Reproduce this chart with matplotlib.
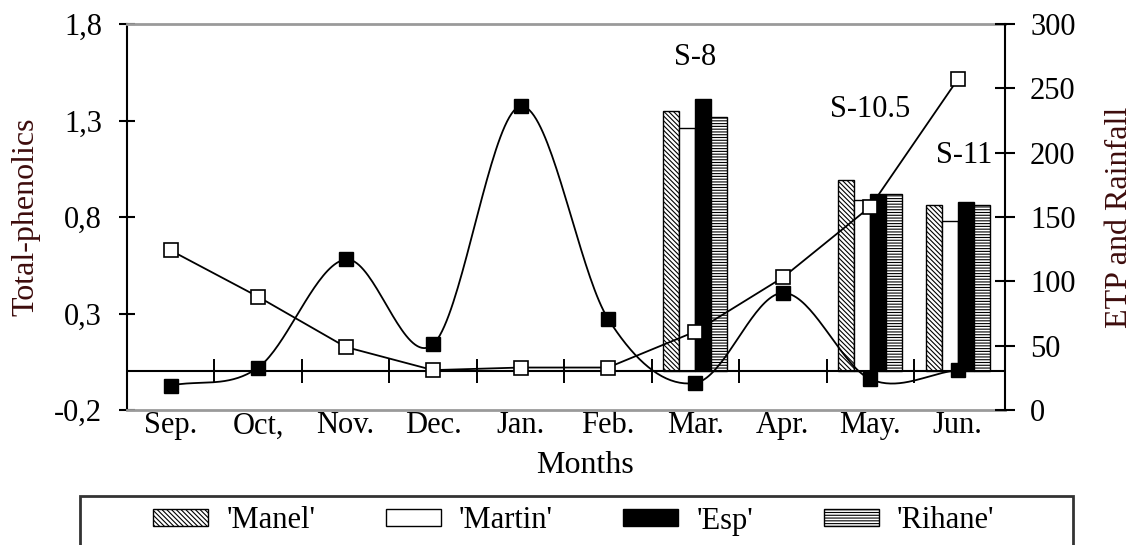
import matplotlib.pyplot as plt
import numpy as np
from matplotlib.patches import Patch, Rectangle

plt.rcParams['font.family'] = ['Liberation Serif', 'DejaVu Serif']
plt.rcParams['hatch.linewidth'] = 0.8

months = ['Sep.', 'Oct,', 'Nov.', 'Dec.', 'Jan.', 'Feb.', 'Mar.', 'Apr.', 'May.', 'Jun.']
etp = [124, 88, 49, 31, 33, 33, 61, 103, 158, 257]
rainfall = [19, 33, 117, 51, 236, 71, 21, 91, 24, 31]

stage_month = [6, 8, 9]
stage_labels = ['S-8', 'S-10.5', 'S-11']
manel = [1.35, 0.99, 0.86]
martin = [1.26, 0.89, 0.78]
esp = [1.41, 0.92, 0.88]
rihane = [1.32, 0.92, 0.86]

left_ticks = [-0.2, 0.3, 0.8, 1.3, 1.8]
right_ticks = [0, 50, 100, 150, 200, 250, 300]

label_col = '#3d0c0c'
grey = '#9a9a9a'
diag = '\\' * 7
horiz = '-' * 6


def smooth(ys, n=40):
    # catmull-rom curve through the points, unit spacing
    ys = np.asarray(ys, dtype=float)
    m = np.gradient(ys)
    xs_out, ys_out = [], []
    t = np.linspace(0, 1, n)
    h00 = 2 * t**3 - 3 * t**2 + 1
    h10 = t**3 - 2 * t**2 + t
    h01 = -2 * t**3 + 3 * t**2
    h11 = t**3 - t**2
    for i in range(len(ys) - 1):
        xs_out.append(i + t)
        ys_out.append(h00 * ys[i] + h10 * m[i] + h01 * ys[i + 1] + h11 * m[i + 1])
    return np.concatenate(xs_out), np.concatenate(ys_out)


fig = plt.figure(figsize=(11.41, 5.45), dpi=100)
ax = fig.add_axes([127 / 1141, 1 - 410 / 545, 878 / 1141, 386 / 545])
ax2 = ax.twinx()

x = np.arange(len(months))
w = 0.183
sx = np.array(stage_month)
ax.bar(sx - 1.5 * w, manel, w, facecolor='white', edgecolor='black', hatch=diag, lw=1)
ax.bar(sx - 0.5 * w, martin, w, facecolor='white', edgecolor='black', lw=1)
ax.bar(sx + 0.5 * w, esp, w, facecolor='black', edgecolor='black', lw=1)
ax.bar(sx + 1.5 * w, rihane, w, facecolor='white', edgecolor='black', hatch=horiz, lw=1)

ax.axhline(0, color='black', lw=1.5, zorder=1)
ax.plot(np.arange(0.5, 9, 1), np.zeros(9), ls='none', marker='|', ms=17, mew=1.4, color='black')

text_y = [1.627, 1.357, 1.12]
text_x = [6, 8, 9.07]
for tx, ty, lab in zip(text_x, text_y, stage_labels):
    ax.text(tx, ty, lab, ha='center', va='center', fontsize=22)

ax2.plot(x, etp, color='black', lw=1.3, marker='s', ms=10, mfc='white', mec='black', mew=1.2)
sxs, sys_ = smooth(rainfall)
ax2.plot(sxs, sys_, color='black', lw=1.3)
ax2.plot(x, rainfall, ls='none', marker='s', ms=10, mfc='black', mec='black')

ax.set_xlim(-0.5, 9.54)
ax.set_ylim(-0.2, 1.8)
ax2.set_ylim(0, 300)

ax.set_xticks(x, months)
ax.tick_params(axis='x', length=0, pad=1, labelsize=22)
ax.set_yticks(left_ticks, [f'{v:.1f}'.replace('.', ',') for v in left_ticks])
ax.tick_params(axis='y', direction='inout', length=12, width=1.5, pad=12, labelsize=22)
ax2.set_yticks(right_ticks)
ax2.tick_params(axis='y', direction='inout', length=14, width=1.5, pad=11, labelsize=22)

for s in ['top', 'bottom']:
    ax.spines[s].set_color(grey)
    ax.spines[s].set_linewidth(2)
    ax2.spines[s].set_visible(False)
ax.spines['left'].set_linewidth(1.5)
ax.spines['right'].set_visible(False)
ax2.spines['left'].set_visible(False)
ax2.spines['right'].set_linewidth(1.5)

ax.set_ylabel('Total-phenolics', fontsize=23, color=label_col, labelpad=10)
ax2.set_ylabel('ETP and Rainfall', fontsize=23, color=label_col, labelpad=21)
ax.set_xlabel('Months', fontsize=23)
ax.xaxis.set_label_coords(0.522, -0.105)

fig.add_artist(Rectangle((80 / 1141, -0.1), (1073 - 80) / 1141, 0.1 + 1 - 496 / 545,
                         transform=fig.transFigure, facecolor='white',
                         edgecolor='#333333', lw=2))
handles = [
    Patch(facecolor='white', edgecolor='black', hatch=diag, label="'Manel'"),
    Patch(facecolor='white', edgecolor='black', label="'Martin'"),
    Patch(facecolor='black', edgecolor='black', label="'Esp'"),
    Patch(facecolor='white', edgecolor='black', hatch=horiz, label="'Rihane'"),
]
fig.legend(handles=handles, ncol=4, frameon=False, loc='center left',
           bbox_to_anchor=(153 / 1141, 1 - 521 / 545), borderpad=0, borderaxespad=0,
           fontsize=22, handlelength=1.8, handleheight=0.5, handletextpad=0.6,
           columnspacing=2.3)

fig.savefig('out.png', dpi=100)
